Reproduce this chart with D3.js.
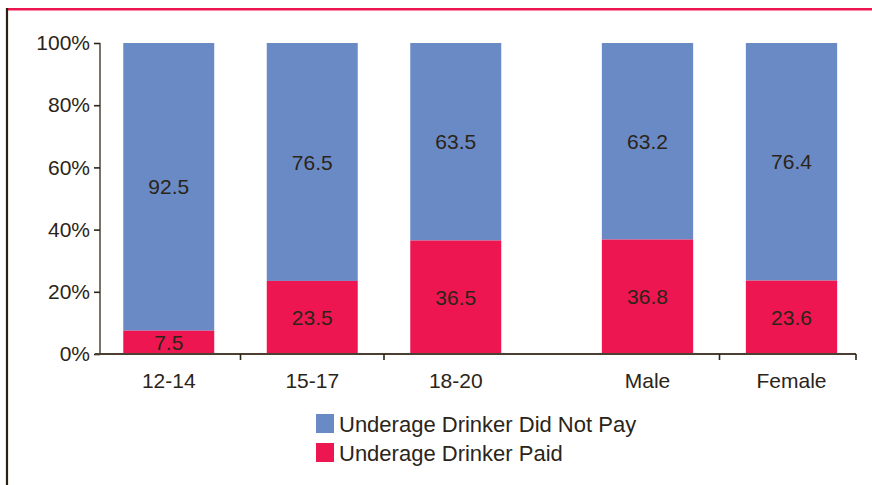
<!DOCTYPE html>
<html>
<head>
<meta charset="utf-8">
<script src="https://cdn.jsdelivr.net/npm/d3@7"></script>
<style>
    body { margin: 0; background: #fff; }
    svg { display: block; font-family: "Liberation Sans", Arial, sans-serif; }
</style>
</head>
<body>
<svg id="chart" width="872" height="485"></svg>
<script>
var ageGroups = ["12-14", "15-17", "18-20"];
var genders = ["Male", "Female"];
var paid = [7.5, 23.5, 36.5, 36.8, 23.6];
var didNotPay = [92.5, 76.5, 63.5, 63.2, 76.4];
var yTicks = [0, 20, 40, 60, 80, 100];
var seriesNames = ["Underage Drinker Did Not Pay", "Underage Drinker Paid"];

var blue = "#6a8ac5";
var red = "#ee1650";
var ink = "#2b2418";
var axisColor = "#5a5045";

var svg = d3.select("#chart");

// frame lines
svg.append("line").attr("x1", 6).attr("x2", 872).attr("y1", 9.2).attr("y2", 9.2)
    .attr("stroke", red).attr("stroke-width", 2.6);
svg.append("line").attr("x1", 7).attr("x2", 7).attr("y1", 8).attr("y2", 485)
    .attr("stroke", "#2a2010").attr("stroke-width", 2.2);

var y = d3.scaleLinear().domain([0, 100]).range([354, 43]);
var xAge = d3.scaleBand().domain(ageGroups).range([97, 527.5]).paddingInner(0.366).paddingOuter(0.183);
var xSex = d3.scaleBand().domain(genders).range([575.5, 863.5]).paddingInner(0.366).paddingOuter(0.183);

var cats = ageGroups.concat(genders);
var rows = cats.map(function (c, i) {
    var scale = i < ageGroups.length ? xAge : xSex;
    return { name: c, x: scale(c), w: scale.bandwidth(), paid: paid[i], notPaid: didNotPay[i] };
});

var bars = svg.append("g");
bars.selectAll("rect.np").data(rows).enter().append("rect")
    .attr("x", function (d) { return d.x; })
    .attr("width", function (d) { return d.w; })
    .attr("y", function (d) { return y(d.paid + d.notPaid); })
    .attr("height", function (d) { return y(d.paid) - y(d.paid + d.notPaid); })
    .attr("fill", blue);
bars.selectAll("rect.p").data(rows).enter().append("rect")
    .attr("x", function (d) { return d.x; })
    .attr("width", function (d) { return d.w; })
    .attr("y", function (d) { return y(d.paid); })
    .attr("height", function (d) { return y(0) - y(d.paid); })
    .attr("fill", red);

// value labels
bars.selectAll("text.np").data(rows).enter().append("text")
    .attr("x", function (d) { return d.x + d.w / 2; })
    .attr("y", function (d) { return (y(d.paid) + y(d.paid + d.notPaid)) / 2; })
    .attr("dy", "0.36em").attr("text-anchor", "middle")
    .attr("font-size", 21).attr("fill", ink)
    .text(function (d) { return d.notPaid.toFixed(1); });
bars.selectAll("text.p").data(rows).enter().append("text")
    .attr("x", function (d) { return d.x + d.w / 2; })
    .attr("y", function (d) { return (y(0) + y(d.paid)) / 2; })
    .attr("dy", "0.36em").attr("text-anchor", "middle")
    .attr("font-size", 21).attr("fill", ink)
    .text(function (d) { return d.paid.toFixed(1); });

// y axis
var yAxis = svg.append("g").attr("transform", "translate(100,0)")
    .call(d3.axisLeft(y).tickValues(yTicks).tickSize(6).tickPadding(4)
        .tickFormat(function (d) { return d + "%"; }));
yAxis.select(".domain").attr("stroke", axisColor).attr("stroke-width", 1.6).attr("d", "M0,43V354");
yAxis.selectAll(".tick line").attr("stroke", ink).attr("stroke-width", 1.6);
yAxis.selectAll(".tick text").attr("font-size", 21).attr("fill", ink)
    .attr("font-family", "Liberation Sans, Arial, sans-serif");

// x axis
svg.append("line").attr("x1", 95).attr("x2", 856).attr("y1", y(0)).attr("y2", y(0))
    .attr("stroke", "#4a3f30").attr("stroke-width", 1.8);
var tickX = [xAge.step() + xAge(ageGroups[0]) - xAge.step() * xAge.paddingInner() / 2,
    xAge(ageGroups[2]) - xAge.step() * xAge.paddingInner() / 2,
    xSex(genders[1]) - xSex.step() * xSex.paddingInner() / 2,
    856];
svg.selectAll("line.xt").data(tickX).enter().append("line")
    .attr("x1", function (d) { return d; }).attr("x2", function (d) { return d; })
    .attr("y1", y(0)).attr("y2", y(0) + 6)
    .attr("stroke", ink).attr("stroke-width", 1.6);

svg.selectAll("text.xl").data(rows).enter().append("text")
    .attr("x", function (d) { return d.x + d.w / 2; })
    .attr("y", 388).attr("text-anchor", "middle")
    .attr("font-size", 21).attr("fill", ink)
    .text(function (d) { return d.name; });

// legend
var legend = svg.append("g").attr("transform", "translate(316,414)");
var legendColors = [blue, red];
seriesNames.forEach(function (name, i) {
    legend.append("rect").attr("x", 0).attr("y", i * 29).attr("width", 18).attr("height", 19)
        .attr("fill", legendColors[i]);
    legend.append("text").attr("x", 23).attr("y", i * 29 + 10).attr("dy", "0.36em")
        .attr("font-size", 22).attr("fill", ink).text(name);
});
</script>
</body>
</html>
